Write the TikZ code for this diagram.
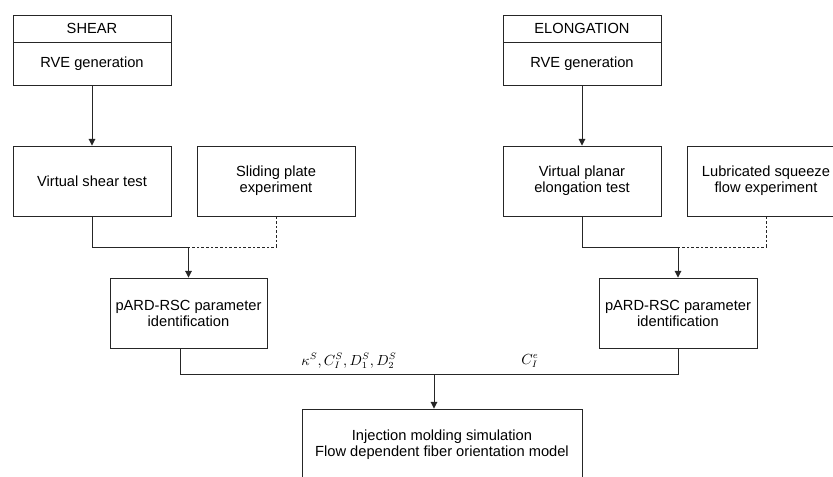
\documentclass[tikz,border=0pt]{standalone}
\usepackage{fontspec}
\setmainfont{Liberation Sans}
\usetikzlibrary{arrows.meta}
\begin{document}
\begin{tikzpicture}[x=0.75pt,y=-0.75pt,
  box/.style={draw=black!85,line width=0.7pt,rectangle,inner sep=0pt,align=center,
    font=\fontsize{11}{12}\selectfont,minimum width=118.5pt,minimum height=52.5pt},
  conn/.style={draw=black!85,line width=0.7pt},
  arr/.style={conn,-{Triangle[length=5pt,width=5pt]}},
  dsh/.style={conn,dash pattern=on 2pt off 1.5pt},
  lbl/.style={inner sep=0pt,font=\fontsize{10.7}{12}\selectfont}]
\path[use as bounding box,clip] (0,0) rectangle (833,476);
% shear column
\node[box,minimum height=20.25pt] (shearH) at (92,28.5) {SHEAR};
\node[box,minimum height=32.25pt] (shearR) at (92,63.5) {RVE generation};
\node[box] (vst) at (92,181) {Virtual shear test};
\node[box] (spe) at (276,181) {Sliding plate\\experiment};
\node[box,minimum width=117.75pt] (pl) at (188.5,313) {pARD-RSC parameter\\identification};
% elongation column
\node[box,minimum height=20.25pt] (elH) at (582,28.5) {ELONGATION};
\node[box,minimum height=32.25pt] (elR) at (582,63.5) {RVE generation};
\node[box] (vpe) at (582,181) {Virtual planar\\elongation test};
\node[box] (lse) at (766,181) {Lubricated squeeze\\flow experiment};
\node[box] (pr) at (678,313) {pARD-RSC parameter\\identification};
% injection
\node[box,minimum width=210pt,minimum height=54pt] (inj) at (442,445) {Injection molding simulation\\Flow dependent fiber orientation model};
% junctions
\coordinate (j1) at (188.5,247);
\coordinate (j3) at (678,247);
\coordinate (j2) at (434,374);
\coordinate (plout) at (180,348);
% connectors
\draw[arr] (shearR.south) -- (vst.north);
\draw[arr] (elR.south) -- (vpe.north);
\draw[conn] (vst.south) |- (j1);
\draw[dsh] (spe.south) |- (j1);
\draw[arr] (j1) -- (pl.north);
\draw[conn] (vpe.south) |- (j3);
\draw[dsh] (lse.south) |- (j3);
\draw[arr] (j3) -- (pr.north);
\draw[conn] (plout) |- (j2);
\draw[conn] (pr.south) |- (j2);
\draw[arr] (j2) -- (j2 |- inj.north);
% labels
\node[lbl] (l1) at (349,361) {$\kappa^S, C_I^S, D_1^S, D_2^S$};
\node[lbl] (l2) at (530,361) {$C_I^e$};
\end{tikzpicture}
\end{document}
